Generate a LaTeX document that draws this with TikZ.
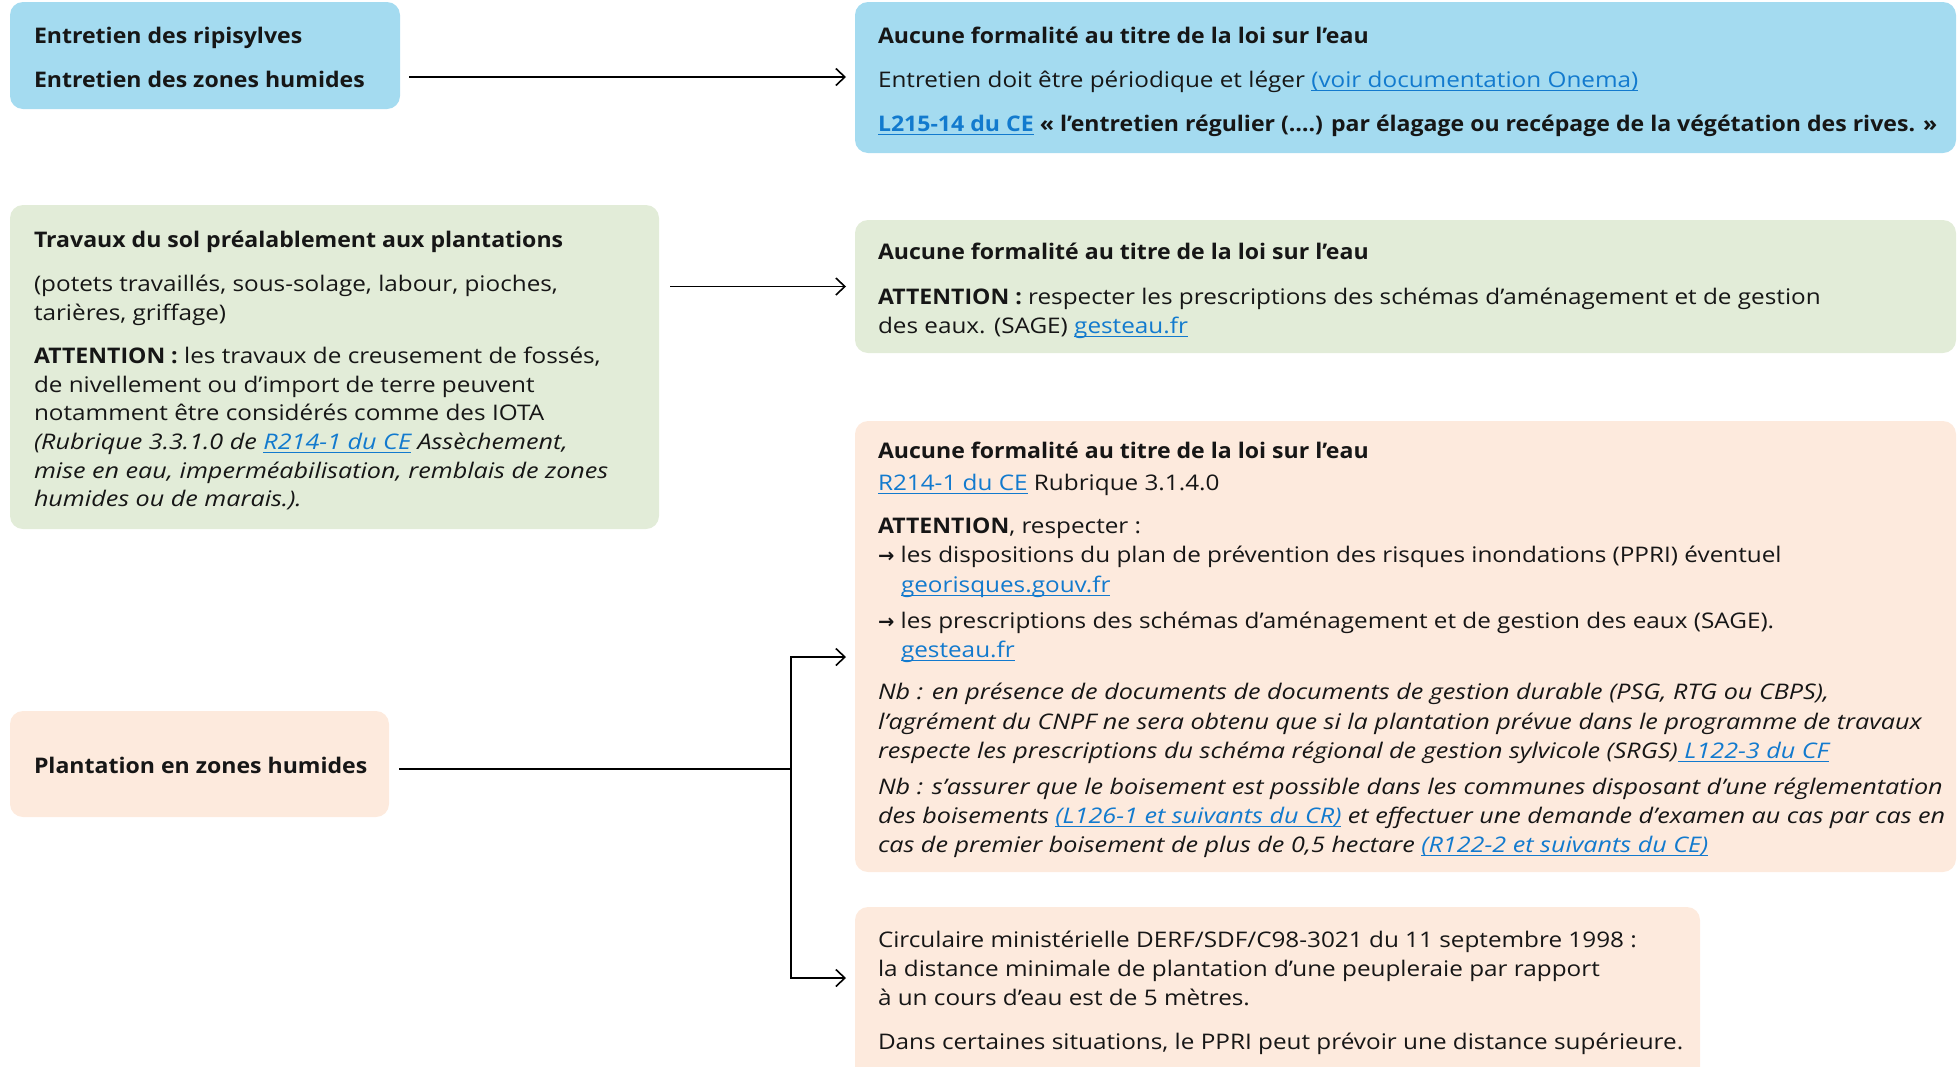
\documentclass[tikz,border=0pt]{standalone}
\usepackage{fontspec}
\setmainfont{Open Sans}[UprightFeatures={FakeStretch=1.13}, BoldFeatures={FakeStretch=1.073}, ItalicFeatures={FakeStretch=1.17}]
\newfontfamily\arrowfont{DejaVu Sans}
\usetikzlibrary{arrows.meta,calc}
\definecolor{bluebox}{RGB}{164,219,240}
\definecolor{greenbox}{RGB}{226,236,216}
\definecolor{peachbox}{RGB}{253,234,221}
\definecolor{linkc}{RGB}{18,122,206}
\definecolor{ink}{RGB}{22,22,22}
\newcommand\lnk[1]{\textcolor{linkc}{\setbox0\hbox{#1}\rlap{\rule[-3.8pt]{\wd0}{1.2pt}}\box0}}
\newcommand\bodyfont{\fontsize{21.5}{28.7}\selectfont}
\newcommand\arr{{\arrowfont\bfseries\fontsize{19.5}{20}\selectfont →}}
\begin{document}
\begin{tikzpicture}[x=1pt,y=-1pt,
  panel/.style={rounded corners=13pt, inner sep=0pt, outer sep=0pt, anchor=north west, draw=none},
  txt/.style={anchor=base west, inner sep=0pt, outer sep=0pt, font=\bodyfont, text=ink},
  conn/.style={draw=black, line width=1.6pt},
  arrow/.style={conn, -{Straight Barb[length=9pt,width=17pt,line width=1.6pt]}}]
\useasboundingbox (0,0) rectangle (1957,1066);
\clip (0,0) rectangle (1957,1066);

% ---- panels
\node[panel, fill=bluebox,  minimum width=390pt,  minimum height=107pt] (boxA) at (10,2) {};
\node[panel, fill=bluebox,  minimum width=1101pt, minimum height=151pt] (boxB) at (855,2) {};
\node[panel, fill=greenbox, minimum width=649pt,  minimum height=324pt] (boxC) at (10,205) {};
\node[panel, fill=greenbox, minimum width=1101pt, minimum height=133pt] (boxD) at (855,220) {};
\node[panel, fill=peachbox, minimum width=1101pt, minimum height=451pt] (boxE) at (855,421) {};
\node[panel, fill=peachbox, minimum width=379pt,  minimum height=106pt] (boxF) at (10,711) {};
\node[panel, fill=peachbox, minimum width=845pt,  minimum height=200pt] (boxG) at (855,907) {};

% ---- box A
\node[txt] (A1) at (34,43) {\textbf{Entretien des ripisylves}};
\node[txt] (A2) at (34,87) {\textbf{Entretien des zones humides}};

% ---- box B
\node[txt] (B1) at (878,43) {\textbf{Aucune formalité au titre de la loi sur l’eau}};
\node[txt] (B2) at (878,87) {Entretien doit être périodique et léger \lnk{(voir documentation Onema)}};
\node[txt] (B3) at (878,131) {\lnk{\textbf{L215-14 du CE}} \textbf{« l’entretien régulier (….) par élagage ou recépage de la végétation des rives. »}};

% ---- box C
\node[txt] (C1) at (34,247) {\textbf{Travaux du sol préalablement aux plantations}};
\node[txt] (C2) at (34,291) {(potets travaillés, sous-solage, labour, pioches,};
\node[txt] (C3) at (34,320) {tarières, griffage)};
\node[txt] (C4) at (34,363) {\textbf{ATTENTION :} les travaux de creusement de fossés,};
\node[txt] (C5) at (34,392) {de nivellement ou d’import de terre peuvent};
\node[txt] (C6) at (34,420) {notamment être considérés comme des IOTA};
\node[txt] (C7) at (34,449) {\itshape (Rubrique 3.3.1.0 de \lnk{R214-1 du CE} Assèchement,};
\node[txt] (C8) at (34,478) {\itshape mise en eau, imperméabilisation, remblais de zones};
\node[txt] (C9) at (34,506) {\itshape humides ou de marais.).};

% ---- box D
\node[txt] (D1) at (878,259) {\textbf{Aucune formalité au titre de la loi sur l’eau}};
\node[txt] (D2) at (878,304) {\textbf{ATTENTION :} respecter les prescriptions des schémas d’aménagement et de gestion};
\node[txt] (D3) at (878,333) {des eaux. (SAGE) \lnk{gesteau.fr}};

% ---- box E
\node[txt] (E1) at (878,458) {\textbf{Aucune formalité au titre de la loi sur l’eau}};
\node[txt] (E2) at (878,490) {\lnk{R214-1 du CE} Rubrique 3.1.4.0};
\node[txt] (E3) at (878,533) {\textbf{ATTENTION}, respecter :};
\node[txt] (E4) at (878,562) {\arr\ les dispositions du plan de prévention des risques inondations (PPRI) éventuel};
\node[txt] (E5) at (901,592) {\lnk{georisques.gouv.fr}};
\node[txt] (E6) at (878,628) {\arr\ les prescriptions des schémas d’aménagement et de gestion des eaux (SAGE).};
\node[txt] (E7) at (901,657) {\lnk{gesteau.fr}};
\node[txt] (E8) at (878,699) {\itshape Nb : en présence de documents de documents de gestion durable (PSG, RTG ou CBPS),};
\node[txt] (E9) at (878,729) {\itshape l’agrément du CNPF ne sera obtenu que si la plantation prévue dans le programme de travaux};
\node[txt] (E10) at (878,758) {\itshape respecte les prescriptions du schéma régional de gestion sylvicole (SRGS)\lnk{\ L122-3 du CF}};
\node[txt] (E11) at (878,794) {\itshape Nb : s’assurer que le boisement est possible dans les communes disposant d’une réglementation};
\node[txt] (E12) at (878,823) {\itshape des boisements \lnk{(L126-1 et suivants du CR)} et effectuer une demande d’examen au cas par cas en};
\node[txt] (E13) at (878,852) {\itshape cas de premier boisement de plus de 0,5 hectare \lnk{(R122-2 et suivants du CE)}};

% ---- box F
\node[txt] (F1) at (34,773) {\textbf{Plantation en zones humides}};

% ---- box G
\node[txt] (G1) at (878,947) {Circulaire ministérielle DERF/SDF/C98-3021 du 11 septembre 1998 :};
\node[txt] (G2) at (878,976) {la distance minimale de plantation d’une peupleraie par rapport};
\node[txt] (G3) at (878,1005) {à un cours d’eau est de 5 mètres.};
\node[txt] (G4) at (878,1049) {Dans certaines situations, le PPRI peut prévoir une distance supérieure.};

% ---- connectors
\draw[arrow] ($(boxA.east)+(9,21.5)$) -- ($(boxB.west)+(-9,-0.5)$);
\draw[arrow] ($(boxC.east |- boxD.west)+(11,0)$) -- ($(boxD.west)+(-9,0)$);
\coordinate (J) at (791,769);
\coordinate (tE) at (846,657);
\coordinate (tG) at (846,978);
\draw[conn] ($(boxF.east)+(10,5)$) -- (J);
\draw[arrow] (J) |- (tE);
\draw[arrow] (J) |- (tG);
\end{tikzpicture}
\end{document}
